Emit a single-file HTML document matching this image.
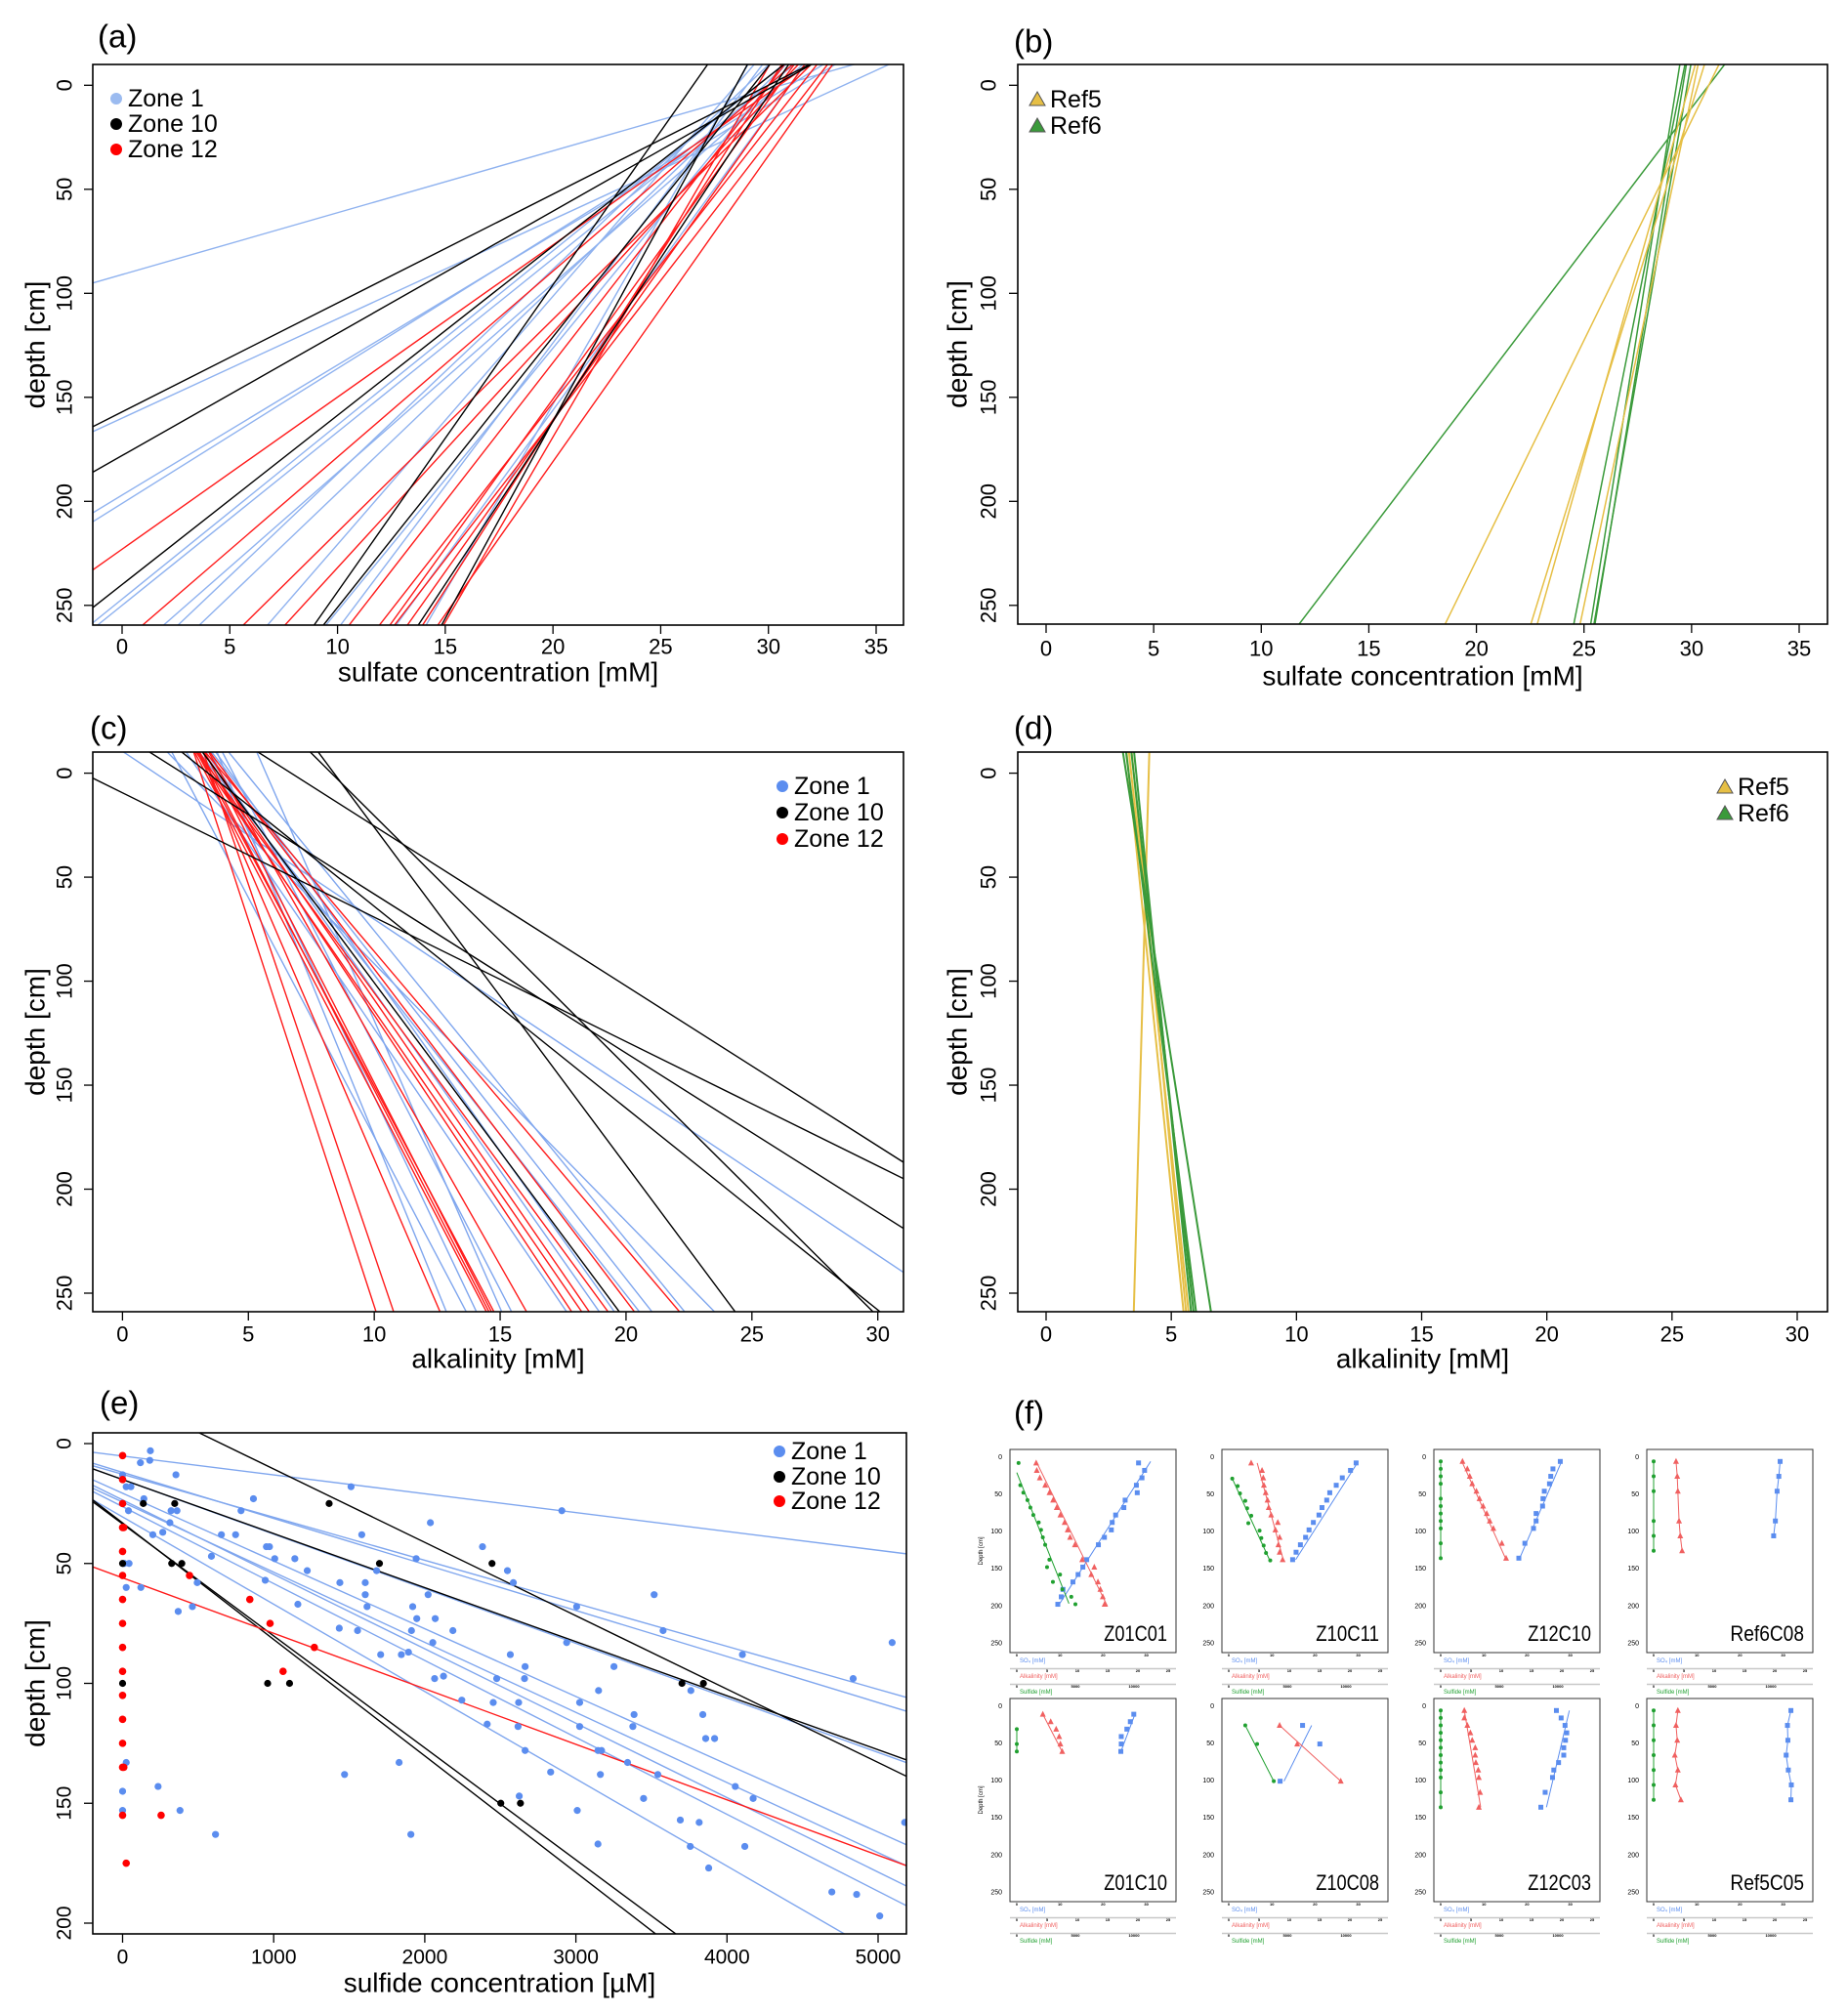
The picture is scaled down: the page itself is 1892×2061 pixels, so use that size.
<!DOCTYPE html>
<html><head><meta charset="utf-8"><title>Sulfate, alkalinity and sulfide profiles</title>
<style>
html,body{margin:0;padding:0;background:#fff;overflow:hidden;width:1892px;height:2061px;}
svg{display:block;font-family:"Liberation Sans",Arial,sans-serif;}
</style></head>
<body>
<svg id="fig" xmlns="http://www.w3.org/2000/svg" width="1892" height="2061" viewBox="0 0 1892 2061">
<rect x="0" y="0" width="1892" height="2061" fill="#fff"/>
</svg>
<script>
// ---------- Panel (a) sulfate, zones ----------
const aColors = ['z1','z1','z1','z1','z1','z1','z1','z1','z1','z1','z1','z1','z1','z1','z12','z12','z12','z12','z12','z12','z12','z12','z12','z12','z12','z12','z10','z10','z10','z10','z10','z10','z10'];
const aSurface = [30.6,33.5,31.5,31,29.5,30,30.5,29,29.8,28.5,30,29,31,28.5,30.5,30,31,30.5,30,31.5,30.5,32,31,30,32.3,29.5,30,30.3,29.5,26.5,29.3,30.3,28.5];
const aZeroDepth = [91,160,197,201,247,250,277,285,295,340,379,399,440,514,223,268,317,345,400,418,438,429,453,485,475,525,157,178,240,391,381,475,541];
// ---------- Panel (b) sulfate, references ----------
const bColors = ['ref6','ref6','ref6','ref6','ref6','ref5','ref5','ref5','ref5'];
const bSurface = [30.8,29.5,29.3,29.6,29.8,30.8,30.3,29.9,30.1];
const bZeroDepth = [419,1536,1903,1874,1780,651,1010,1095,1476];
// ---------- Panel (c) alkalinity, zones ----------
const cColors = ['z1','z1','z1','z1','z1','z1','z1','z1','z1','z1','z1','z1','z1','z12','z12','z12','z12','z12','z12','z12','z12','z12','z12','z12','z12','z12','z12','z10','z10','z10','z10','z10','z10','z10'];
const cSurface = [4.1,2.4,3.9,5.7,4.4,3.1,3.9,4.3,3.7,4.2,4.9,2.6,1.3,3.1,3.5,3.4,3.3,3.5,3.7,3.4,3.9,3.6,3.5,3.8,3.6,4.1,4.0,6.7,-1.58,8.3,8.4,2.4,3.8,3.4];
const cAt260 = [12.9,13.7,14.1,15.1,15.5,17.7,19.0,19.6,20.6,21.1,22.4,23.6,33.5,10.1,10.8,12.65,14.5,14.6,14.7,14.8,16.1,17.9,18.3,18.6,19.35,20.4,22.2,40.5,41.9,29.9,24.4,36.4,19.8,30.2];
// ---------- Panel (d) alkalinity, references ----------
const dColors = ['ref5','ref5','ref5','ref5','ref6','ref6','ref6','ref6'];
const dSurface = [4.1,3.5,3.4,3.3,3.2,3.3,3.5,3.6];
const dAt260 = [3.5,5.6,5.7,5.5,6.6,6.0,5.9,5.8];
// ---------- Panel (e) sulfide ----------
const eBlueX = [184,180,118,0,353,24,55,1512,141,866,39,321,360,784,2907,313,2037,200,266,654,748,1583,952,972,2382,588,1007,1140,1943,12,43,1222,1681,2547,944,494,1438,1606,2586,24,121,2022,3518,1606,1160,1618,1920,3005,462,368,1434,1555,1912,2069,2186,1947,3577,2053,2939,5093,1708,1845,1892,2566,4102,2664,3252,2065,2124,2476,2660,4835,2245,2453,2621,3025,3761,3150,2413,2617,3025,3385,3377,3840,3859,3918,2664,3146,3170,1830,3342,2833,24,1469,3162,3542,235,4055,2625,3448,4173,0,0,380,3009,3691,3816,5176,615,1908,3146,3757,4118,3879,4694,4858,5011];
const eBlueD = [3,7,8,13,13,18,18,18,23,23,28,28,28,28,28,33,33,38,37,38,38,38,43,43,43,47,48,48,48,50,50,53,53,53,57,58,58,58,58,60,60,63,63,63,67,68,68,68,68,70,77,78,78,73,78,73,78,83,83,83,88,88,87,88,88,93,93,98,97,98,98,98,107,108,108,108,103,103,117,118,118,113,118,113,123,123,128,128,128,133,133,137,133,138,138,138,143,143,147,148,148,145,153,153,153,157,158,158,163,163,167,168,168,177,187,188,197];
const eBlackX = [137,345,1367,0,325,392,1700,2445,0,960,1105,3702,3844,2503,2633];
const eBlackD = [25,25,25,50,50,50,50,50,100,100,100,100,100,150,150];
const eRedX = [0,0,0,0,0,0,0,0,0,0,0,0,0,0,0,8,443,842,976,1269,1062,8,255,24];
const eRedD = [5,15,25,35,45,55,65,75,85,95,105,115,125,135,155,35,55,65,75,85,95,135,155,175];
const eLineColors = ['z1','z1','z1','z1','z1','z1','z1','z1','z1','z10','z10','z10','z10','z12'];
const eLineDepthAt0 = [5.2,12.8,12.0,15,20.7,23.5,26.3,30.6,24.4,-20,15,33.1,33.5,56];
const eLineDepthAt5000 = [44.5,102.5,108,128.8,162,178.7,186.7,212.6,170.6,133,127.7,276,267,171.7];
// ---------- Panel (f) core profiles ----------
const fNames = ['Z01C01','Z10C11','Z12C10','Ref6C08','Z01C10','Z10C08','Z12C03','Ref5C05'];
const fSo4D = [[7,17,27,37,47,57,67,77,87,97,107,117,137,147,157,167,177,187,197],[7,17,27,37,47,57,67,77,87,97,107,117,127,137],[5,15,25,35,45,55,65,75,85,95,115,135],[5,25,45,85,105],[10,20,30,40,50,60],[25,50,100],[5,15,25,35,45,55,65,75,85,95,115,135],[5,25,45,65,85,105,125]];
const fSo4V = [[28.2,29.6,29.0,27.7,27.9,25.1,24.8,22.9,22.1,21.9,20.3,18.9,16.2,15.3,14.2,13.0,10.7,10.3,9.5],[29.5,28.2,26.3,24.9,23.4,22.7,21.6,20.9,19.6,18.6,17.8,16.6,15.6,14.8],[27.7,26.0,25.5,25.2,24.0,23.7,23.6,22.1,22.1,21.5,19.5,18.1],[29.3,29.0,28.6,28.2,27.8],[27.1,26.3,25.5,24.2,24.2,24.1],[17.1,21.1,11.9],[26.8,27.9,28.8,29.2,28.9,28.5,28.5,27.3,26.2,25.9,24.2,23.2],[31.8,31.0,31.1,30.7,31.2,31.9,31.8]];
const fAlkD = [[7,17,27,37,47,57,67,77,87,97,107,117,137,147,157,167,177,187,197],[7,17,27,37,47,57,67,77,87,97,107,117,127,137],[5,15,25,35,45,55,65,75,85,95,115,135],[5,25,45,85,105,125],[10,20,30,40,50,60],[25,50,100],[5,15,25,35,45,55,65,75,85,95,115,135],[5,25,45,65,85,105,125]];
const fAlkV = [[3.2,3.3,3.8,4.7,5.4,6.0,6.6,7.2,7.9,8.4,8.8,9.6,10.8,12.8,12.3,13.4,13.8,14.2,14.5],[3.7,5.5,5.7,5.8,6.1,6.4,6.6,7.0,8.1,7.7,8.4,8.2,8.4,8.9],[3.6,4.4,4.8,5.2,5.9,6.4,7.0,7.6,8.1,8.7,10.1,10.8],[3.7,3.9,4.0,4.2,4.4,4.7],[4.3,5.6,6.5,7.0,7.2,7.5],[8.4,11.3,18.5],[3.9,3.9,4.4,4.9,5.2,5.7,5.7,5.8,6.2,6.3,6.5,6.3],[4.0,3.7,3.9,3.5,4.0,3.6,4.5]];
const fSulD = [[7,37,47,57,67,77,87,97,107,117,137,147,157,167,177,187,197],[28,38,48,58,68,78,88,98,108,118,128,138],[5,15,25,35,55,65,75,85,95,115,135],[5,25,45,85,105,125],[30,50,60],[25,50,100],[5,15,25,35,45,55,65,75,85,95,115,135],[5,25,45,65,85,105,125]];
const fSulV = [[150,300,560,910,1160,1410,1870,2070,2220,2420,2780,2580,3690,3080,3890,4650,5000],[300,760,960,1410,1570,1920,1670,2630,2780,2980,3180,3540],[0,0,0,0,0,0,0,0,0,0,0],[0,0,0,0,0,0],[0,0,0],[1410,2420,3840],[0,0,0,0,0,0,0,0,0,0,0,0],[0,0,0,0,0,0,0]];
const fSo4Fit = [[31,5,9.5,200],[30,5,15.5,137],[28,5,18.3,135],null,[27.5,8,24,62],[12.8,100,19.2,25],[29.8,5,24.5,135],null];
const fAlkFit = [[3.2,5,15,200],[4.7,7,9.0,137],[3.5,5,10.8,137],null,[4.3,10,7.6,62],[8.4,25,18.5,100],[3.9,5,6.6,135],null];
const fSulFit = [[0,20,4450,196],[300,28,3560,140],[0,5,0,135],null,[0,30,0,60],[1410,25,3840,100],[0,5,0,135],null];

const NS = 'http://www.w3.org/2000/svg';
const svg = document.getElementById('fig');
const COL = {z1:'#8fb2ef', z1pt:'#5b8def', z10:'#000000', z12:'#ff1a1a', ref5:'#e6bf45', ref6:'#3a9a3a'};

function mk(tag, parent, name) {
  const e = document.createElementNS(NS, tag);
  
  
  parent.appendChild(e);
  return e;
}
function setA(e, o){ for (const k in o) e.setAttribute(k, o[k]); return e; }
function txt(parent, name, x, y, s, size, opts) {
  const t = mk('text', parent, name);
  setA(t, {x:x, y:y, 'font-size':size, fill:'#000'});
  if (opts) setA(t, opts);
  t.textContent = s;
  return t;
}
let clipId = 0;
function panel(o) {
  const g = mk('g', svg, o.name);
  const sx = v => o.px0 + (v - o.v0) * (o.px1 - o.px0) / (o.v1 - o.v0);
  const sy = d => o.py0 + (d - o.d0) * (o.py1 - o.py0) / (o.d1 - o.d0);
  const [l,t,r,b] = o.box;
  const cid = 'clip' + (clipId++);
  const cp = mk('clipPath', g, 'plot-clip');
  cp.setAttribute('id', cid);
  const cr = mk('rect', cp, 'clip-rect');
  setA(cr, {x:l, y:t, width:r-l, height:b-t});
  const plot = mk('g', g, 'plot-area');
  plot.setAttribute('clip-path', 'url(#' + cid + ')');
  const frame = mk('rect', g, 'plot-frame');
  setA(frame, {x:l, y:t, width:r-l, height:b-t, fill:'none', stroke:'#000', 'stroke-width':o.fw || 1.6});
  o.xt.forEach(v => {
    const tk = mk('line', g, 'x-tick');
    setA(tk, {x1:sx(v), x2:sx(v), y1:b, y2:b + (o.tl||9), stroke:'#000', 'stroke-width':1.3});
    txt(g, 'x-tick-label', sx(v), o.xlY, String(v), o.tfs||22, {'text-anchor':'middle', 'dominant-baseline':'central'});
  });
  o.yt.forEach(v => {
    const tk = mk('line', g, 'y-tick');
    setA(tk, {x1:l - (o.tl||9), x2:l, y1:sy(v), y2:sy(v), stroke:'#000', 'stroke-width':1.3});
    const tl = txt(g, 'y-tick-label', o.ylX, sy(v), String(v), o.tfs||22, {'text-anchor':'middle', 'dominant-baseline':'central'});
    tl.setAttribute('transform', 'rotate(-90 ' + o.ylX + ' ' + sy(v) + ')');
  });
  if (o.xTitle) txt(g, 'x-axis-title', (l+r)/2 + (o.xTitleDx||0), o.xTitleY, o.xTitle, 28, {'text-anchor':'middle', 'dominant-baseline':'central'});
  if (o.yTitle) {
    const yt = txt(g, 'y-axis-title', o.yTitleX, (t+b)/2, o.yTitle, 28, {'text-anchor':'middle', 'dominant-baseline':'central'});
    yt.setAttribute('transform', 'rotate(-90 ' + o.yTitleX + ' ' + ((t+b)/2) + ')');
  }
  txt(g, 'panel-label', o.lab[0], o.lab[1], o.lab[2], 33, {'dominant-baseline':'central'});
  return {g, plot, sx, sy};
}
function seg(parent, name, x1, y1, x2, y2, color, w) {
  const ln = mk('line', parent, name);
  setA(ln, {x1:x1, y1:y1, x2:x2, y2:y2, stroke:color, 'stroke-width':w||1.4});
  return ln;
}
function legendDot(parent, x, y, color, label, r) {
  const c = mk('circle', parent, 'legend-marker');
  setA(c, {cx:x, cy:y, r:r||6, fill:color});
  txt(parent, 'legend-entry', x + 12, y, label, 25, {'dominant-baseline':'central'});
}
function legendTri(parent, x, y, color, label) {
  const p = mk('polygon', parent, 'legend-marker');
  setA(p, {points:(x-8)+','+(y+6)+' '+(x+8)+','+(y+6)+' '+x+','+(y-8), fill:color, stroke:'#555', 'stroke-width':1});
  txt(parent, 'legend-entry', x + 13, y, label, 25, {'dominant-baseline':'central'});
}

// ---------- (a) ----------
const pa = panel({name:'panel-a-sulfate-zones', box:[95,66,925,640], px0:125, px1:897, v0:0, v1:35, py0:87.3, py1:619.8, d0:0, d1:250,
  xt:[0,5,10,15,20,25,30,35], yt:[0,50,100,150,200,250], xlY:662, ylX:66, xTitle:'sulfate concentration [mM]', xTitleY:688, yTitle:'depth [cm]', yTitleX:36, lab:[100,37,'(a)']});
aSurface.forEach((c0, i) => {
  const f = d => c0 * (1 - d / aZeroDepth[i]);
  seg(pa.plot, 'sulfate-line-' + aColors[i], pa.sx(f(-12)), pa.sy(-12), pa.sx(f(262)), pa.sy(262), COL[aColors[i]], 1.4);
});
legendDot(pa.g, 119, 101, '#9bbbf0', 'Zone 1');
legendDot(pa.g, 119, 127, '#000', 'Zone 10');
legendDot(pa.g, 119, 153, '#ff0000', 'Zone 12');

// ---------- (b) ----------
const pb = panel({name:'panel-b-sulfate-refs', box:[1042,66,1871,639], px0:1071, px1:1842, v0:0, v1:35, py0:87.3, py1:619.8, d0:0, d1:250,
  xt:[0,5,10,15,20,25,30,35], yt:[0,50,100,150,200,250], xlY:664, ylX:1012, xTitle:'sulfate concentration [mM]', xTitleY:692, yTitle:'depth [cm]', yTitleX:980, lab:[1038,42,'(b)']});
bSurface.forEach((c0, i) => {
  const f = d => c0 * (1 - d / bZeroDepth[i]);
  seg(pb.plot, 'sulfate-line-' + bColors[i], pb.sx(f(-12)), pb.sy(-12), pb.sx(f(262)), pb.sy(262), COL[bColors[i]], 1.5);
});
legendTri(pb.g, 1062, 102, COL.ref5, 'Ref5');
legendTri(pb.g, 1062, 129, COL.ref6, 'Ref6');

// ---------- (c) ----------
const pc = panel({name:'panel-c-alkalinity-zones', box:[95,770,925,1343], px0:125.4, px1:898.7, v0:0, v1:30, py0:791.6, py1:1324, d0:0, d1:250,
  xt:[0,5,10,15,20,25,30], yt:[0,50,100,150,200,250], xlY:1366, ylX:66, xTitle:'alkalinity [mM]', xTitleY:1391, yTitle:'depth [cm]', yTitleX:36, lab:[92,745,'(c)']});
cSurface.forEach((a0, i) => {
  const f = d => a0 + (cAt260[i] - a0) * d / 260;
  seg(pc.plot, 'alkalinity-line-' + cColors[i], pc.sx(f(-12)), pc.sy(-12), pc.sx(f(262)), pc.sy(262), cColors[i]==='z1' ? '#7fa6ee' : COL[cColors[i]], 1.4);
});
legendDot(pc.g, 801, 805, COL.z1pt, 'Zone 1');
legendDot(pc.g, 801, 832, '#000', 'Zone 10');
legendDot(pc.g, 801, 859, '#ff0000', 'Zone 12');

// ---------- (d) ----------
const pd = panel({name:'panel-d-alkalinity-refs', box:[1042,770,1871,1343], px0:1071, px1:1840, v0:0, v1:30, py0:791.6, py1:1324, d0:0, d1:250,
  xt:[0,5,10,15,20,25,30], yt:[0,50,100,150,200,250], xlY:1366, ylX:1012, xTitle:'alkalinity [mM]', xTitleY:1391, yTitle:'depth [cm]', yTitleX:980, lab:[1038,745,'(d)']});
dSurface.forEach((a0, i) => {
  const f = d => a0 + (dAt260[i] - a0) * d / 260;
  seg(pd.plot, 'alkalinity-line-' + dColors[i], pd.sx(f(-12)), pd.sy(-12), pd.sx(f(262)), pd.sy(262), COL[dColors[i]], 2);
});
legendTri(pd.g, 1766, 806, COL.ref5, 'Ref5');
legendTri(pd.g, 1766, 833, COL.ref6, 'Ref6');

// ---------- (e) ----------
const pe = panel({name:'panel-e-sulfide', box:[95,1467,928,1980], px0:125.5, px1:899, v0:0, v1:5000, py0:1478, py1:1969, d0:0, d1:200,
  xt:[0,1000,2000,3000,4000,5000], yt:[0,50,100,150,200], xlY:2004, ylX:66, xTitle:'sulfide concentration [µM]', xTitleY:2030, yTitle:'depth [cm]', yTitleX:36, lab:[102,1436,'(e)'], tfs:21});
eLineDepthAt0.forEach((d0, i) => {
  const f = x => d0 + (eLineDepthAt5000[i] - d0) * x / 5000;
  seg(pe.plot, 'sulfide-fit-' + eLineColors[i], pe.sx(-300), pe.sy(f(-300)), pe.sx(5400), pe.sy(f(5400)), eLineColors[i]==='z1' ? '#7fa6ee' : COL[eLineColors[i]], 1.4);
});
function pts(xs, ds, color, name, r) {
  xs.forEach((x, i) => {
    const c = mk('circle', pe.plot, name);
    setA(c, {cx:pe.sx(x), cy:pe.sy(ds[i]), r:r, fill:color});
  });
}
pts(eBlueX, eBlueD, COL.z1pt, 'sulfide-point-zone1', 3.6);
pts(eBlackX, eBlackD, '#000', 'sulfide-point-zone10', 3.6);
pts(eRedX, eRedD, '#ff0000', 'sulfide-point-zone12', 3.8);
legendDot(pe.g, 798, 1486, COL.z1pt, 'Zone 1');
legendDot(pe.g, 798, 1512, '#000', 'Zone 10');
legendDot(pe.g, 798, 1537, '#ff0000', 'Zone 12');

// ---------- (f) ----------
const gf = mk('g', svg, 'panel-f-core-profiles');
txt(gf, 'panel-label', 1038, 1446, '(f)', 33, {'dominant-baseline':'central'});
const fColLeft = [1034, 1251, 1468, 1686];
const fRowTop = [1484, 1739];
fNames.forEach((nm, k) => {
  const l = fColLeft[k % 4], t = fRowTop[Math.floor(k / 4)];
  const w = 170, h = 208, b = t + h, x0 = l + 7, y0 = t + 8.5;
  const g = mk('g', gf, 'core-plot-' + nm);
  const sy = d => y0 + d * 0.7616;
  const sxS = v => x0 + v * 4.42, sxA = v => x0 + v * 6.2, sxH = v => x0 + v * 0.012;
  const fr = mk('rect', g, 'core-plot-frame');
  setA(fr, {x:l, y:t, width:w, height:h, fill:'none', stroke:'#333', 'stroke-width':1});
  [0,50,100,150,200,250].forEach(v => txt(g, 'depth-tick-label', l - 8, sy(v), String(v), 7, {'text-anchor':'end', 'dominant-baseline':'central'}));
  if (k % 4 === 0) {
    const dt = txt(g, 'depth-axis-title', l - 28, t + h/2, 'Depth [cm]', 6, {'text-anchor':'middle'});
    dt.setAttribute('transform', 'rotate(-90 ' + (l - 28) + ' ' + (t + h/2) + ')');
  }
  const g1 = mk('line', g, 'axis-separator');
  setA(g1, {x1:l, x2:l+w, y1:b+16.5, y2:b+16.5, stroke:'#c8c8c8', 'stroke-width':1.6});
  const g2 = mk('line', g, 'axis-separator');
  setA(g2, {x1:l, x2:l+w, y1:b+32.5, y2:b+32.5, stroke:'#c8c8c8', 'stroke-width':1.6});
  [0,10,20,30].forEach(v => txt(g, 'so4-tick-label', sxS(v), b+4, String(v), 4, {'text-anchor':'middle', 'font-weight':'bold'}));
  [0,5,10,15,20,25].forEach(v => txt(g, 'alk-tick-label', sxA(v), b+20, String(v), 4, {'text-anchor':'middle', 'font-weight':'bold'}));
  [0,5000,10000].forEach(v => txt(g, 'sulfide-tick-label', sxH(v), b+36, String(v), 4, {'text-anchor':'middle', 'font-weight':'bold'}));
  txt(g, 'so4-axis-title', l+10, b+10, 'SO₄ [mM]', 6, {fill:'#5b8def'});
  txt(g, 'alk-axis-title', l+10, b+26, 'Alkalinity [mM]', 6, {fill:'#f06060'});
  txt(g, 'sulfide-axis-title', l+10, b+42, 'Sulfide [mM]', 6, {fill:'#20a030'});
  txt(g, 'core-name', l + w - 9, b - 12, nm, 22, {'text-anchor':'end', 'textLength':nm.length * 10.8, 'lengthAdjust':'spacingAndGlyphs'});
  function fit(arr, sx, color, nmn) {
    if (arr) seg(g, nmn, sx(arr[0]), sy(arr[1]), sx(arr[2]), sy(arr[3]), color, 1);
  }
  function poly(vs, ds, sx, color, nmn) {
    const p = mk('polyline', g, nmn);
    setA(p, {points: vs.map((v, i) => sx(v) + ',' + sy(ds[i])).join(' '), fill:'none', stroke:color, 'stroke-width':1});
  }
  if (fSo4Fit[k]) { fit(fSo4Fit[k], sxS, '#5b8def', 'so4-fit'); fit(fAlkFit[k], sxA, '#f06060', 'alk-fit'); fit(fSulFit[k], sxH, '#20a030', 'sulfide-fit'); }
  else { poly(fSo4V[k], fSo4D[k], sxS, '#5b8def', 'so4-profile'); poly(fAlkV[k], fAlkD[k], sxA, '#f06060', 'alk-profile'); poly(fSulV[k], fSulD[k], sxH, '#20a030', 'sulfide-profile'); }
  fSo4V[k].forEach((v, i) => {
    const s = mk('rect', g, 'so4-point');
    setA(s, {x:sxS(v)-2.5, y:sy(fSo4D[k][i])-2.5, width:5, height:5, fill:'#5b8def'});
  });
  fAlkV[k].forEach((v, i) => {
    const X = sxA(v), Y = sy(fAlkD[k][i]);
    const p = mk('polygon', g, 'alk-point');
    setA(p, {points:(X-3)+','+(Y+2.5)+' '+(X+3)+','+(Y+2.5)+' '+X+','+(Y-3.5), fill:'#f06060'});
  });
  fSulV[k].forEach((v, i) => {
    const c = mk('circle', g, 'sulfide-point');
    setA(c, {cx:sxH(v), cy:sy(fSulD[k][i]), r:2, fill:'#20a030'});
  });
});
</script>
</body></html>
